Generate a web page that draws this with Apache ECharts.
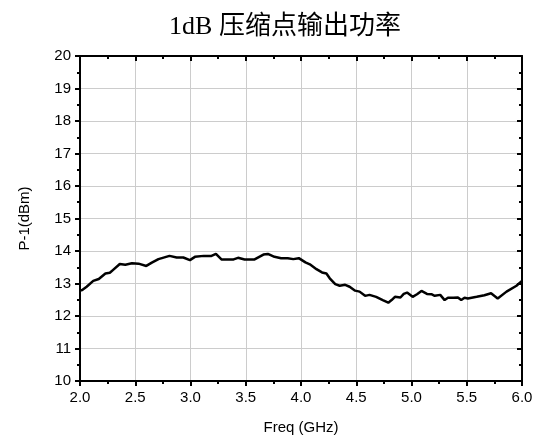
<!DOCTYPE html>
<html>
<head>
<meta charset="utf-8">
<script src="https://cdn.jsdelivr.net/npm/echarts@6/dist/echarts.min.js"></script>
<style>
  html, body { margin: 0; padding: 0; background: #fff; }
  #main { width: 544px; height: 437px; }
</style>
</head>
<body>
<div id="main"></div>
<script>
// frequency points (GHz)
var freq = [2.00, 2.02, 2.06, 2.12, 2.17, 2.23, 2.27, 2.30, 2.36, 2.41, 2.47, 2.53, 2.60, 2.65, 2.71, 2.81, 2.875, 2.935, 2.995, 3.04,
  3.12, 3.19, 3.23, 3.28, 3.33, 3.39, 3.43, 3.49, 3.58, 3.66, 3.70, 3.76, 3.82, 3.88, 3.93, 3.98, 4.04, 4.08, 4.14, 4.19,
  4.23, 4.26, 4.31, 4.35, 4.40, 4.44, 4.49, 4.53, 4.58, 4.62, 4.68, 4.74, 4.79, 4.82, 4.85, 4.90, 4.93, 4.96, 5.01, 5.05,
  5.09, 5.14, 5.18, 5.21, 5.26, 5.30, 5.33, 5.38, 5.42, 5.45, 5.48, 5.51, 5.59, 5.66, 5.72, 5.78, 5.86, 5.95, 6.00];
// P-1 (dBm)
var p1 = [12.78, 12.80, 12.90, 13.08, 13.14, 13.31, 13.33, 13.42, 13.60, 13.58, 13.62, 13.61, 13.54, 13.64, 13.75, 13.85, 13.80, 13.80, 13.72, 13.82,
  13.85, 13.85, 13.91, 13.74, 13.74, 13.74, 13.79, 13.74, 13.74, 13.89, 13.91, 13.82, 13.78, 13.78, 13.75, 13.78, 13.65, 13.59, 13.44, 13.34,
  13.31, 13.16, 12.98, 12.93, 12.96, 12.90, 12.78, 12.75, 12.62, 12.65, 12.59, 12.49, 12.41, 12.49, 12.59, 12.57, 12.68, 12.72, 12.59, 12.67,
  12.77, 12.68, 12.67, 12.62, 12.65, 12.49, 12.56, 12.56, 12.57, 12.49, 12.56, 12.54, 12.59, 12.64, 12.70, 12.54, 12.75, 12.93, 13.08];

var points = freq.map(function (f, i) { return [f, p1[i]]; });

var axisFont = { fontFamily: 'Liberation Sans', fontSize: 15, color: '#000' };

option = {
    animation: false,
    backgroundColor: '#fff',
    title: {
        text: '1dB 压缩点输出功率',
        left: 280,
        textAlign: 'center',
        top: 9,
        textStyle: { fontFamily: 'Liberation Serif, Noto Sans CJK SC', fontSize: 26, fontWeight: 'normal', color: '#000' }
    },
    grid: { left: 80, right: 22, top: 56, bottom: 56, outerBoundsMode: 'none' },
    xAxis: [
        {
            type: 'value', min: 2, max: 6, interval: 0.5,
            name: 'Freq (GHz)', nameLocation: 'middle', nameGap: 39,
            nameTextStyle: { fontFamily: 'Liberation Sans', fontSize: 15, color: '#000' },
            axisLine: { onZero: false, lineStyle: { color: '#000', width: 2 } },
            axisTick: { show: true, length: 5, lineStyle: { color: '#000', width: 2 } },
            minorTick: { show: true, splitNumber: 2, length: 3, lineStyle: { color: '#000', width: 2 } },
            axisLabel: Object.assign({ margin: 9, formatter: function (v) { return v.toFixed(1); } }, axisFont),
            splitLine: { show: true, lineStyle: { color: '#ccc', width: 1 } }
        },
        {
            type: 'value', min: 2, max: 6, interval: 0.5, position: 'top',
            axisLine: { onZero: false, lineStyle: { color: '#000', width: 2 } },
            axisTick: { show: true, inside: true, length: 5, lineStyle: { color: '#000', width: 2 } },
            minorTick: { show: true, splitNumber: 2, length: 3, lineStyle: { color: '#000', width: 2 } },
            axisLabel: { show: false },
            splitLine: { show: false }
        }
    ],
    yAxis: [
        {
            type: 'value', min: 10, max: 20, interval: 1,
            name: 'P-1(dBm)', nameLocation: 'middle', nameGap: 48, nameRotate: 90,
            nameTextStyle: { fontFamily: 'Liberation Sans', fontSize: 15, color: '#000' },
            axisLine: { onZero: false, lineStyle: { color: '#000', width: 2 } },
            axisTick: { show: true, length: 5, lineStyle: { color: '#000', width: 2 } },
            minorTick: { show: true, splitNumber: 2, length: 3, lineStyle: { color: '#000', width: 2 } },
            axisLabel: Object.assign({ margin: 9 }, axisFont),
            splitLine: { show: true, lineStyle: { color: '#ccc', width: 1 } }
        },
        {
            type: 'value', min: 10, max: 20, interval: 1, position: 'right',
            axisLine: { onZero: false, lineStyle: { color: '#000', width: 2 } },
            axisTick: { show: true, inside: true, length: 5, lineStyle: { color: '#000', width: 2 } },
            minorTick: { show: true, splitNumber: 2, length: 3, lineStyle: { color: '#000', width: 2 } },
            axisLabel: { show: false },
            splitLine: { show: false }
        }
    ],
    series: [
        {
            name: 'P-1',
            type: 'line',
            data: points,
            showSymbol: false,
            lineStyle: { color: '#000', width: 2.5 }
        }
    ]
};

var chart = echarts.init(document.getElementById('main'));
chart.setOption(option);
</script>
</body>
</html>
